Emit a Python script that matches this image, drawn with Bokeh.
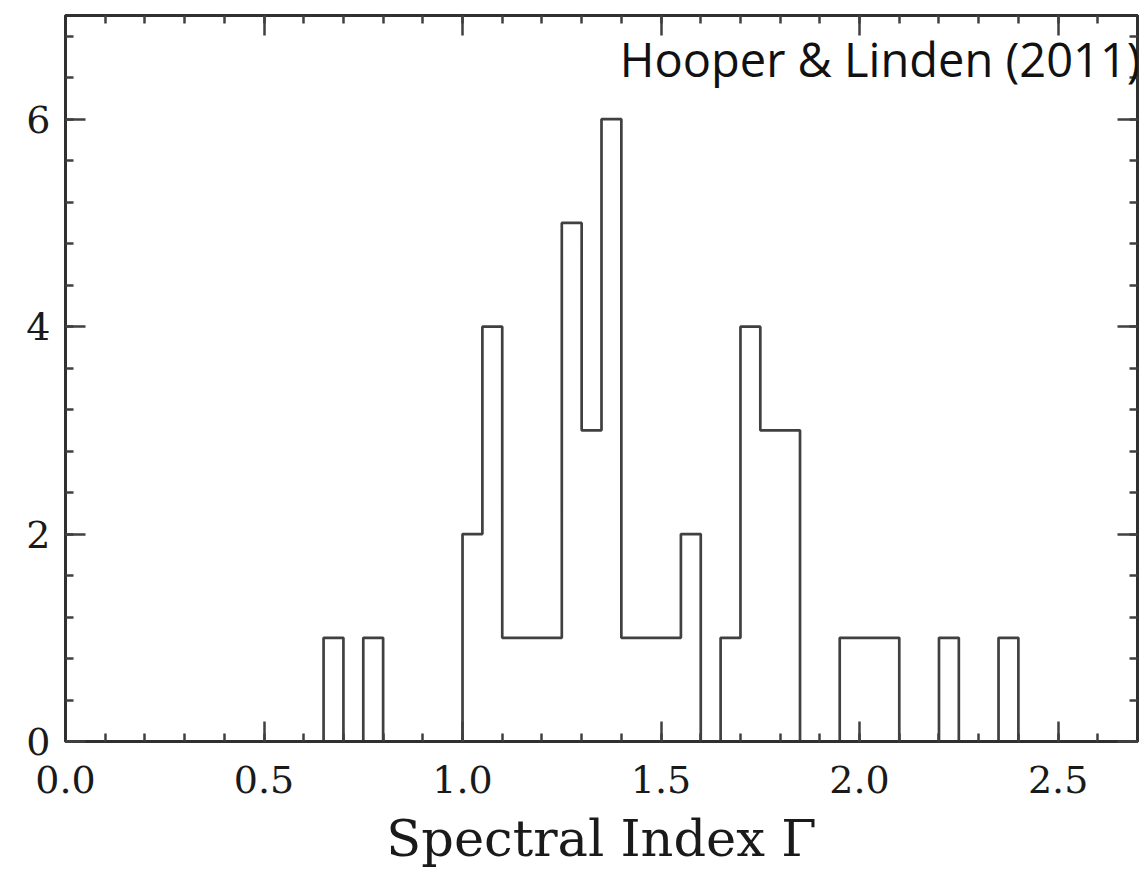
from bokeh.plotting import figure
from bokeh.models import (LinearAxis, SingleIntervalTicker, NumeralTickFormatter, Label,
                          Range1d, CustomLabelingPolicy)
from bokeh.embed import file_html
from bokeh.resources import INLINE

# Histogram data: left bin edges (width 0.05) and counts
bin_left = [0.60, 0.65, 0.70, 0.75, 0.80, 0.85, 0.90, 0.95, 1.00, 1.05, 1.10, 1.15,
            1.20, 1.25, 1.30, 1.35, 1.40, 1.45, 1.50, 1.55, 1.60, 1.65, 1.70, 1.75,
            1.80, 1.85, 1.90, 1.95, 2.00, 2.05, 2.10, 2.15, 2.20, 2.25, 2.30, 2.35, 2.40]
counts = [0, 1, 0, 1, 0, 0, 0, 0, 2, 4, 1, 1,
          1, 5, 3, 6, 1, 1, 1, 2, 0, 1, 4, 3,
          3, 0, 0, 1, 1, 1, 0, 0, 1, 0, 0, 1, 0]
bin_width = 0.05
x_label = "Spectral Index Γ"
annotation = "Hooper & Linden (2011)"

FONT = "DejaVu Serif"
LINE = "#404040"

p = figure(width=1146, height=872, output_backend="svg", toolbar_location=None,
           x_range=Range1d(0, 2.7), y_range=Range1d(0, 7),
           min_border_left=65, min_border_right=9, min_border_top=15, min_border_bottom=131,
           x_axis_location=None, y_axis_location=None)
p.xgrid.visible = False
p.ygrid.visible = False
p.outline_line_color = "#303030"
p.outline_line_width = 3
p.background_fill_color = "white"
p.border_fill_color = "white"

# step outline of the histogram
xs = bin_left + [bin_left[-1] + bin_width]
ys = counts + [0]
p.step(xs, ys, mode="after", line_color=LINE, line_width=2.7)

hide_all = CustomLabelingPolicy(code="return new Set()")


def style(ax, labels=True):
    ax.axis_line_color = "#303030"
    ax.axis_line_width = 3
    ax.major_tick_in = 20
    ax.major_tick_out = 0
    ax.minor_tick_in = 8
    ax.minor_tick_out = 0
    ax.major_tick_line_color = "#404040"
    ax.minor_tick_line_color = "#404040"
    ax.major_tick_line_width = 2.5
    ax.minor_tick_line_width = 2.5
    ax.major_label_text_font = FONT
    ax.major_label_text_color = "#1a1a1a"
    if labels:
        ax.major_label_text_font_size = "38px"
    else:
        ax.major_label_text_font_size = "1px"
        ax.major_label_policy = hide_all
        ax.major_label_standoff = 0


xb = LinearAxis(ticker=SingleIntervalTicker(interval=0.5, num_minor_ticks=5),
                formatter=NumeralTickFormatter(format="0.0"))
style(xb)
xb.major_label_standoff = 24
xb.axis_label = x_label
xb.axis_label_text_font = FONT
xb.axis_label_text_font_size = "51px"
xb.axis_label_text_font_style = "normal"
xb.axis_label_text_color = "#1a1a1a"
xb.axis_label_standoff = 13
p.add_layout(xb, "below")

yl = LinearAxis(ticker=SingleIntervalTicker(interval=2, num_minor_ticks=5))
style(yl)
yl.major_label_standoff = 15
p.add_layout(yl, "left")

xt = LinearAxis(ticker=SingleIntervalTicker(interval=0.5, num_minor_ticks=5))
style(xt, labels=False)
p.add_layout(xt, "above")

yr = LinearAxis(ticker=SingleIntervalTicker(interval=2, num_minor_ticks=5))
style(yr, labels=False)
p.add_layout(yr, "right")

p.add_layout(Label(x=2.708, y=6.58, text=annotation, text_align="right",
                   text_baseline="alphabetic", text_font="Open Sans",
                   text_font_size="47px", text_color="#111111"))

open("out.html", "w").write(file_html(p, INLINE))
